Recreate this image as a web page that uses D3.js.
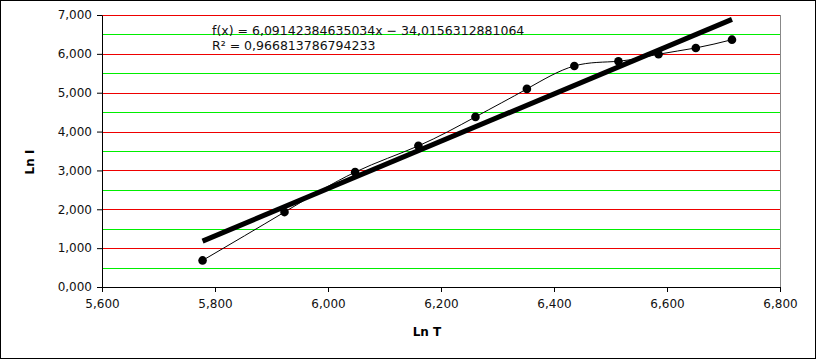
<!DOCTYPE html>
<html>
<head>
<meta charset="utf-8">
<script src="https://cdn.jsdelivr.net/npm/d3@7"></script>
<style>
    body { margin: 0; background: #fff; }
    svg { display: block; font-family: "DejaVu Sans", sans-serif; }
</style>
</head>
<body>
<div id="chart"></div>
<script>
// measured points, Ln T vs Ln I
const lnT = [5.778, 5.923, 6.048, 6.160, 6.261, 6.352, 6.436, 6.514, 6.585, 6.651, 6.715];
const lnI = [0.684, 1.928, 2.956, 3.632, 4.378, 5.098, 5.689, 5.810, 5.990, 6.152, 6.365];

// linear trend line, as printed on the chart
const slope = 6.09142384635034;
const intercept = -34.0156312881064;
const eqLines = ["f(x) = 6,09142384635034x − 34,0156312881064", "R² = 0,966813786794233"];

const xTicks = [5.6, 5.8, 6.0, 6.2, 6.4, 6.6, 6.8];
const yTicks = [0, 1, 2, 3, 4, 5, 6, 7];
const yHalfTicks = [0.5, 1.5, 2.5, 3.5, 4.5, 5.5, 6.5];

const W = 816, H = 359;
const margin = { left: 102, right: 36, top: 15, bottom: 72 };
const width = W - margin.left - margin.right;
const height = H - margin.top - margin.bottom;

const fmt = d3.formatLocale({ decimal: ",", thousands: ".", grouping: [3], currency: ["", ""] }).format(".3f");

const svg = d3.select("#chart").append("svg")
    .attr("width", W)
    .attr("height", H);

svg.append("rect")
    .attr("x", 0.5).attr("y", 0.5)
    .attr("width", W - 1).attr("height", H - 1)
    .attr("fill", "#fff")
    .attr("stroke", "#000");

const g = svg.append("g")
    .attr("transform", `translate(${margin.left}, ${margin.top})`);

const x = d3.scaleLinear().domain([5.6, 6.8]).range([0, width]);
const y = d3.scaleLinear().domain([0, 7]).range([height, 0]);

// grid: green at halves, red at whole numbers
g.append("g").selectAll("line").data(yHalfTicks).join("line")
    .attr("x1", 0).attr("x2", width)
    .attr("y1", d => Math.round(y(d)) + 0.5).attr("y2", d => Math.round(y(d)) + 0.5)
    .attr("stroke", "#00ee00");
g.append("g").selectAll("line").data(yTicks.filter(d => d > 0)).join("line")
    .attr("x1", 0).attr("x2", width)
    .attr("y1", d => Math.round(y(d)) + 0.5).attr("y2", d => Math.round(y(d)) + 0.5)
    .attr("stroke", "#ee0000");

// right border of plot area
g.append("line")
    .attr("x1", width + 0.5).attr("x2", width + 0.5)
    .attr("y1", 0).attr("y2", height)
    .attr("stroke", "#888");

const xAxis = g.append("g")
    .attr("transform", `translate(0, ${height})`)
    .call(d3.axisBottom(x).tickValues(xTicks).tickFormat(fmt).tickSize(5).tickSizeOuter(0));
const yAxis = g.append("g")
    .call(d3.axisLeft(y).tickValues(yTicks).tickFormat(fmt).tickSize(5).tickSizeOuter(0));

[xAxis, yAxis].forEach(a => {
    a.attr("font-family", "DejaVu Sans, sans-serif").attr("font-size", 12);
    a.selectAll("path, line").attr("stroke", "#000");
    a.selectAll("text").attr("fill", "#111");
});
xAxis.selectAll("text").attr("dy", "1.05em");
yAxis.selectAll("text").attr("x", -10);

// axis titles
svg.append("text")
    .attr("x", 427).attr("y", 336)
    .attr("text-anchor", "middle")
    .attr("font-size", 12).attr("font-weight", "bold")
    .text("Ln T");
svg.append("text")
    .attr("transform", "translate(34, 162) rotate(-90)")
    .attr("text-anchor", "middle")
    .attr("font-size", 12).attr("font-weight", "bold")
    .text("Ln I");

const points = lnT.map((t, i) => ({ t: t, v: lnI[i] }));

// smoothed data line
const line = d3.line()
    .x(d => x(d.t))
    .y(d => y(d.v))
    .curve(d3.curveNatural);

g.append("path")
    .datum(points)
    .attr("d", line)
    .attr("fill", "none")
    .attr("stroke", "#000")
    .attr("stroke-width", 1);

g.append("g").selectAll("circle").data(points).join("circle")
    .attr("cx", d => x(d.t))
    .attr("cy", d => y(d.v))
    .attr("r", 4.3)
    .attr("fill", "#000");

// trend line over the range of the data
const tExt = d3.extent(lnT);
g.append("line")
    .attr("x1", x(tExt[0])).attr("y1", y(slope * tExt[0] + intercept))
    .attr("x2", x(tExt[1])).attr("y2", y(slope * tExt[1] + intercept))
    .attr("stroke", "#000")
    .attr("stroke-width", 5);

svg.append("g").selectAll("text").data(eqLines).join("text")
    .attr("x", 212)
    .attr("y", (d, i) => 35 + i * 15)
    .attr("font-size", 12.5)
    .attr("fill", "#111")
    .text(d => d);
</script>
</body>
</html>
